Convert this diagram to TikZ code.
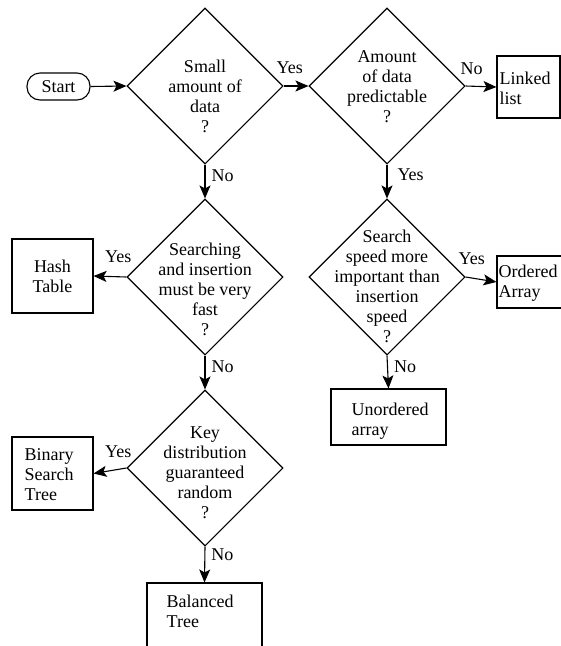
\documentclass[tikz,border=0pt]{standalone}
\usepackage{fontspec}
\setmainfont{Liberation Serif}
\usetikzlibrary{shapes.geometric,arrows.meta}
\begin{document}
\begin{tikzpicture}[x=1pt,y=-1pt,
  every node/.style={font=\fontsize{18}{20}\selectfont},
  dia/.style={draw,line width=1.1pt,shape=diamond,minimum width=156pt,minimum height=156pt,inner sep=0pt},
  dtxt/.style={align=center,inner sep=0pt},
  box/.style={draw,line width=1.1pt,rectangle,inner sep=0pt},
  btxt/.style={align=left,inner sep=0pt,anchor=west},
  lab/.style={inner sep=0pt},
  arr/.style={line width=1.1pt,-{Stealth[length=13pt,width=11pt,inset=3pt]}}]
\clip (0,0) rectangle (561,646);
\fill[white] (0,0) rectangle (561,646);
% start
\node[draw,line width=1.1pt,rounded corners=13pt,minimum width=63pt,minimum height=27pt,inner sep=0pt] (start) at (58.5,86.5) {Start};
% diamonds
\node[dia] (d1) at (205,86) {};
\node[dtxt] (t1) at (205,96) {Small\\amount of\\data\\?};
\node[dia] (d2) at (387,86) {};
\node[dtxt] (t2) at (387,87) {Amount\\of data\\predictable\\?};
\node[dia] (d3) at (205,277) {};
\node[dtxt] (t3) at (205,289) {Searching\\and insertion\\must be very\\fast\\?};
\node[dia] (d4) at (205,468) {};
\node[dtxt] (t4) at (205,473) {Key\\distribution\\guaranteed\\random\\?};
\node[dia] (d5) at (387,277) {};
\node[dtxt] (t5) at (387,286) {Search\\speed more\\important than\\insertion\\speed\\?};
% boxes
\node[box,minimum width=63pt,minimum height=62pt] (ll) at (528.5,87) {};
\node[btxt] (llt) at ([xshift=3pt,yshift=-1pt]ll.west) {Linked\\list};
\node[box,minimum width=81pt,minimum height=74pt,align=center] (ht) at (52.5,276) {Hash\\Table};
\node[box,minimum width=81pt,minimum height=73pt] (bst) at (52.5,473.5) {};
\node[btxt] (bstt) at ([xshift=13pt,yshift=-1pt]bst.west) {Binary\\Search\\Tree};
\node[box,minimum width=115pt,minimum height=100pt] (bal) at (204.5,633) {};
\node[btxt] (balt) at ([xshift=20pt]bal.north west) [anchor=north west,yshift=-12pt] {Balanced\\Tree};
\node[box,minimum width=100pt,minimum height=52pt] (oa) at (547,282) {};
\node[btxt] (oat) at ([xshift=2pt,yshift=-1pt]oa.west) {Ordered\\Array};
\node[box,minimum width=115pt,minimum height=56pt] (ua) at (388.5,417) {};
\node[btxt] (uat) at ([xshift=21pt,yshift=-4pt]ua.west) {Unordered\\array};
% connectors
\draw[arr] (start.east) -- (d1.west);
\draw[arr] (d1.east) -- node[lab,pos=0.25,yshift=18pt] {Yes} (d2.west);
\draw[arr] (d2.east) -- node[lab,pos=0.2,yshift=18pt] {No} (ll.west);
\draw[arr] (d1.south) -- node[lab,pos=0.33,anchor=west,xshift=6pt] {No} (d3.north);
\draw[arr] (d2.south) -- node[lab,pos=0.3,anchor=west,xshift=10pt] {Yes} (d5.north);
\draw[arr] (d3.west) -- node[lab,pos=0.25,yshift=20pt] {Yes} (ht.east);
\draw[arr] (d3.south) -- node[lab,pos=0.33,anchor=west,xshift=6pt] {No} (d4.north);
\draw[arr] (d4.west) -- node[lab,pos=0.25,yshift=18pt] {Yes} (bst.east);
\draw[arr] (d4.south) -- node[lab,pos=0.22,anchor=west,xshift=6pt] {No} (bal.north);
\draw[arr] (d5.east) -- node[lab,pos=0.2,yshift=19pt] {Yes} (oa.west);
\draw[arr] (d5.south) -- node[lab,pos=0.33,anchor=west,xshift=6pt] {No} (ua.north);
\end{tikzpicture}
\end{document}
